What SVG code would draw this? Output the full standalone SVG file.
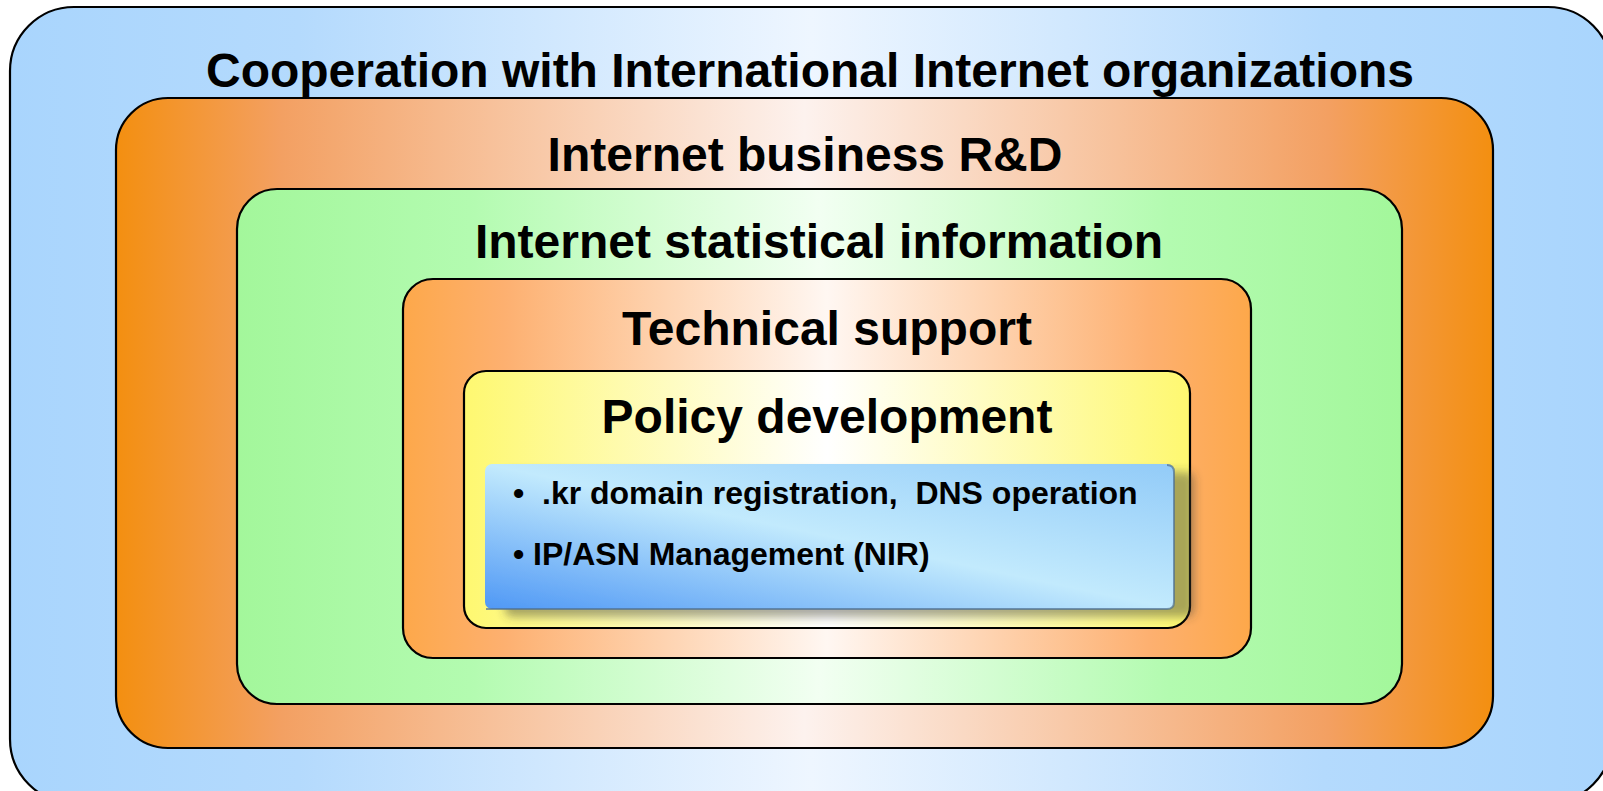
<svg xmlns="http://www.w3.org/2000/svg" width="1603" height="791" viewBox="0 0 1603 791">
<defs>
<linearGradient id="gBlue" x1="0" y1="0" x2="1" y2="0">
<stop offset="0" stop-color="#a9d5fd"/><stop offset="0.18" stop-color="#b4dafd"/><stop offset="0.5" stop-color="#eef6ff"/><stop offset="0.82" stop-color="#b4dafd"/><stop offset="1" stop-color="#a9d5fd"/>
</linearGradient>
<linearGradient id="gOrange" x1="0" y1="0" x2="1" y2="0">
<stop offset="0" stop-color="#f38f10"/><stop offset="0.12" stop-color="#f3a062"/><stop offset="0.5" stop-color="#fdf2ee"/><stop offset="0.88" stop-color="#f3a062"/><stop offset="1" stop-color="#f38f10"/>
</linearGradient>
<linearGradient id="gGreen" x1="0" y1="0" x2="1" y2="0">
<stop offset="0" stop-color="#a3f79b"/><stop offset="0.2" stop-color="#b3fbb0"/><stop offset="0.5" stop-color="#f2fff2"/><stop offset="0.8" stop-color="#b3fbb0"/><stop offset="1" stop-color="#a3f79b"/>
</linearGradient>
<linearGradient id="gTech" x1="0" y1="0" x2="1" y2="0">
<stop offset="0" stop-color="#fda84a"/><stop offset="0.12" stop-color="#fdb070"/><stop offset="0.5" stop-color="#fff7f2"/><stop offset="0.88" stop-color="#fdb070"/><stop offset="1" stop-color="#fda84a"/>
</linearGradient>
<linearGradient id="gYellow" x1="0" y1="0" x2="1" y2="0">
<stop offset="0" stop-color="#fef870"/><stop offset="0.5" stop-color="#ffffff"/><stop offset="1" stop-color="#fef870"/>
</linearGradient>
<linearGradient id="gInner" x1="0" y1="1" x2="1" y2="0">
<stop offset="0" stop-color="#4f98f5"/><stop offset="0.5" stop-color="#c2eafd"/><stop offset="1" stop-color="#92cbf8"/>
</linearGradient>
<filter id="shadow" x="-10%" y="-10%" width="130%" height="140%">
<feDropShadow dx="20" dy="8" stdDeviation="5" flood-color="#404030" flood-opacity="0.45"/>
</filter>
</defs>
<style>
.box{stroke:#000;stroke-width:2.2}
.title{font-family:"Liberation Sans",Arial,sans-serif;font-weight:bold;font-size:48px;fill:#000;text-anchor:middle}
.item{font-family:"Liberation Sans",Arial,sans-serif;font-weight:bold;font-size:32px;fill:#000}
</style>
<g id="node-cooperation">
<rect class="box" x="10" y="7" width="1602" height="796" rx="64" fill="url(#gBlue)"/>
<text class="title" x="810" y="87">Cooperation with International Internet organizations</text>
</g>
<g id="node-rnd">
<rect class="box" x="116" y="98" width="1377" height="650" rx="52" fill="url(#gOrange)"/>
<text class="title" x="805" y="171">Internet business R&amp;D</text>
</g>
<g id="node-statistics">
<rect class="box" x="237" y="189" width="1165" height="515" rx="40" fill="url(#gGreen)"/>
<text class="title" x="819" y="258">Internet statistical information</text>
</g>
<g id="node-technical">
<rect class="box" x="403" y="279" width="848" height="379" rx="30" fill="url(#gTech)"/>
<text class="title" x="827" y="345">Technical support</text>
</g>
<g id="node-policy">
<rect class="box" x="464" y="371" width="726" height="257" rx="22" fill="url(#gYellow)"/>
<text class="title" x="827" y="433">Policy development</text>
</g>
<g id="node-services">
<rect x="485" y="464" width="689" height="145" rx="7" fill="url(#gInner)" filter="url(#shadow)"/>
<path d="M1167 465 Q1174 465 1174 472 L1174 602 Q1174 609 1167 609 L486 609" fill="none" stroke="#4f6f90" stroke-width="2" stroke-opacity="0.7"/>
<text class="item" x="513" y="504" xml:space="preserve">•  .kr domain registration,  DNS operation</text>
<text class="item" x="513" y="565" xml:space="preserve">• IP/ASN Management (NIR)</text>
</g>
<g id="connectors"/>
</svg>
